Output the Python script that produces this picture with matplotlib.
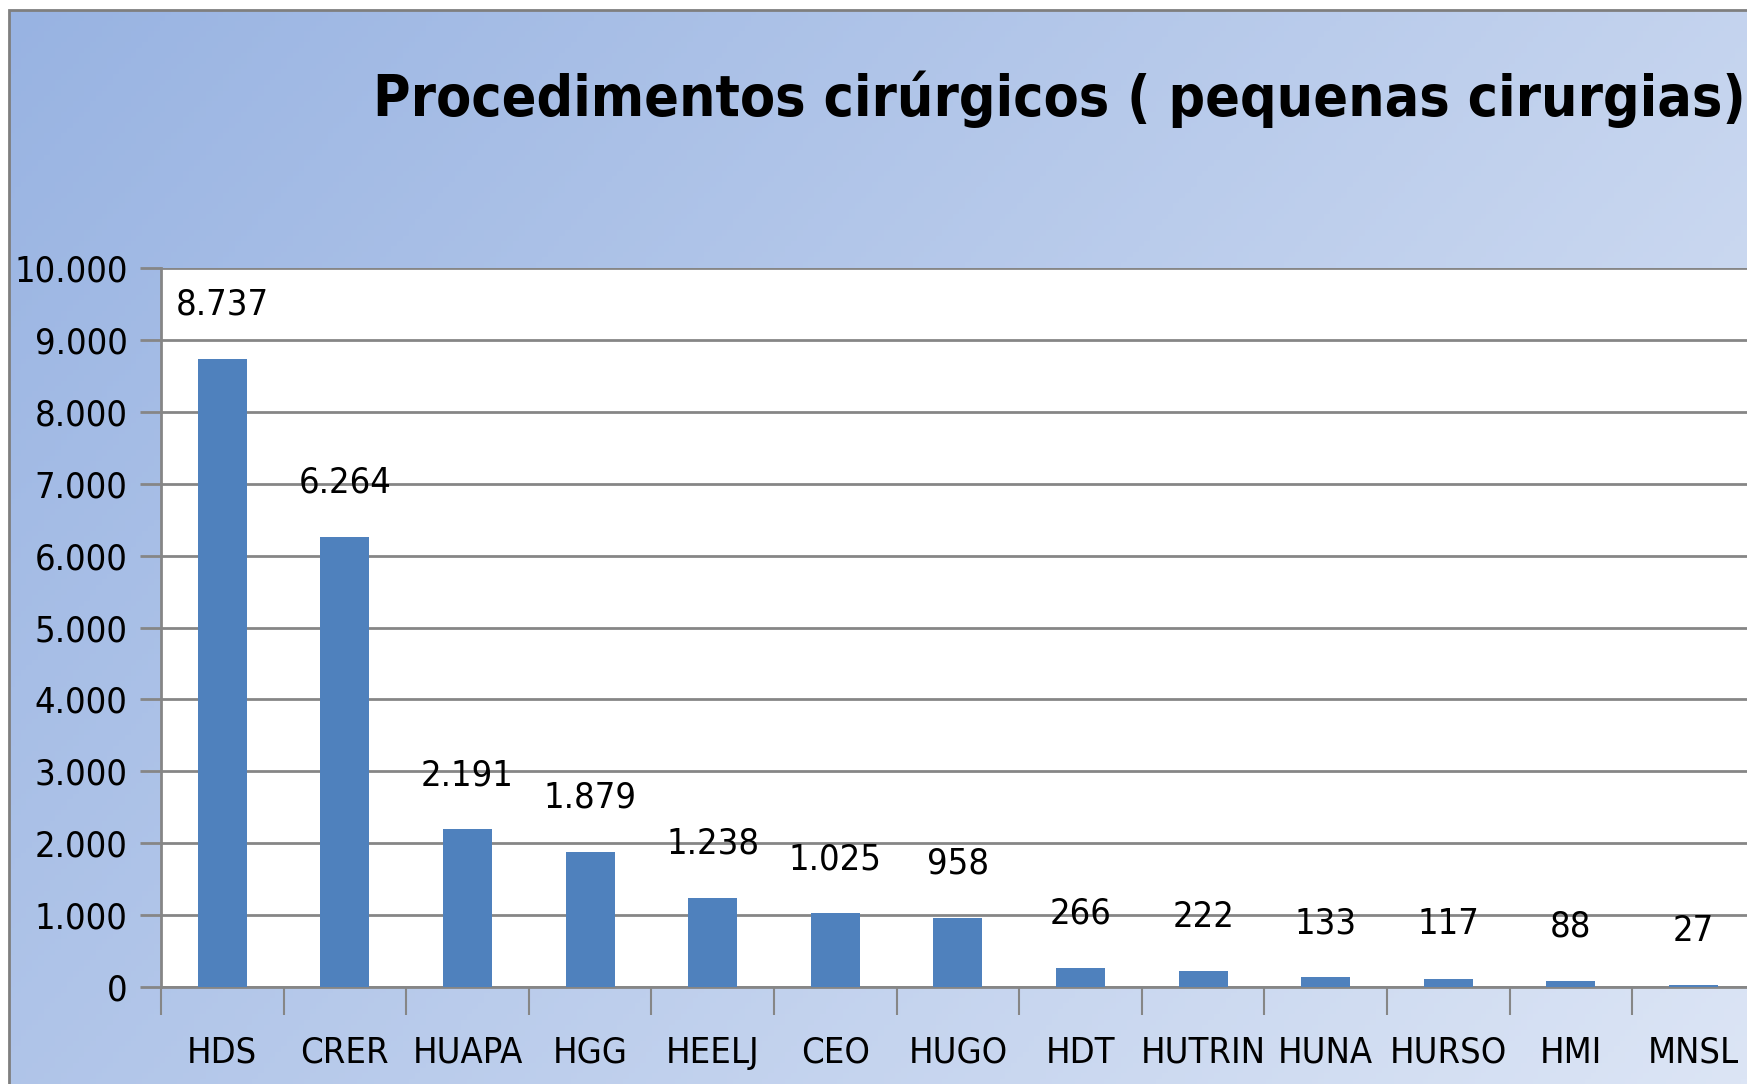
#!/usr/bin/env python3

import numpy as np
import matplotlib
matplotlib.use("Agg")
import matplotlib.pyplot as plt
from matplotlib.ticker import FuncFormatter
from matplotlib.patches import Rectangle

plt.rcParams['font.family'] = ['DejaVu Sans']
plt.rcParams['font.stretch'] = 'condensed'

hospitals = ["HDS", "CRER", "HUAPA", "HGG", "HEELJ", "CEO", "HUGO", "HDT",
             "HUTRIN", "HUNA", "HURSO", "HMI", "MNSL"]
procedures = [8737, 6264, 2191, 1879, 1238, 1025, 958, 266, 222, 133, 117, 88, 27]
title = "Procedimentos cirúrgicos ( pequenas cirurgias)"
yticks = np.arange(0, 10001, 1000)


def pt_br(v, pos=None):
    return f"{int(v):,}".replace(",", ".")


W, H = 1747, 1084
fig = plt.figure(figsize=(W / 100, H / 100), dpi=100)

# gradient background
bg = fig.add_axes([0, 0, 1, 1], zorder=0)
xx, yy = np.meshgrid(np.linspace(0, 1, 300), np.linspace(0, 1, 200))
t = 0.65 * xx + 0.35 * yy
c0 = np.array([152, 179, 226]) / 255
c1 = np.array([220, 229, 245]) / 255
img = c0[None, None, :] * (1 - t[..., None]) + c1[None, None, :] * t[..., None]
bx0, by1 = 9 / W, 1 - 10 / H
bg.imshow(img, extent=[bx0, 1, 0, by1], aspect='auto', origin='upper')
bg.add_patch(Rectangle((bx0, -0.01), 1.1, by1 + 0.01, fill=False,
                       edgecolor='#7f7f7f', lw=2))
bg.set_xlim(0, 1)
bg.set_ylim(0, 1)
bg.axis('off')

fig.text(373 / W, 1 - 99 / H, title, fontsize=41, fontweight='bold',
         ha='left', va='center')

ax_l, ax_r = 161, 161 + 13 * 122.6
ax_t, ax_b = 268, 987
ax = fig.add_axes([ax_l / W, 1 - ax_b / H, (ax_r - ax_l) / W, (ax_b - ax_t) / H],
                  zorder=1)
ax.set_facecolor('white')

x = np.arange(len(hospitals))
ax.bar(x, procedures, width=0.4, color='#4f81bd', zorder=3)
for xi, v in zip(x, procedures):
    ax.annotate(pt_br(v), (xi, v), xytext=(0, 39), textcoords='offset points',
                ha='center', va='center', fontsize=26, color='black')

ax.set_xlim(-0.5, len(hospitals) - 0.5)
ax.set_ylim(0, 10000)
ax.set_yticks(yticks)
ax.yaxis.set_major_formatter(FuncFormatter(pt_br))
ax.yaxis.grid(True, color='#868686', lw=2, zorder=1)
ax.set_axisbelow(True)

ax.set_xticks(np.arange(-0.5, len(hospitals), 1.0))
ax.set_xticklabels([])
ax.set_xticks(x, minor=True)
ax.set_xticklabels(hospitals, minor=True, fontsize=26)
ax.tick_params(axis='x', which='major', length=20, width=1.5, color='#868686')
ax.tick_params(axis='x', which='minor', length=0, pad=35)
ax.tick_params(axis='y', length=15, width=2, color='#868686', labelsize=26, pad=9)

for s in ['top', 'right']:
    ax.spines[s].set_visible(False)
for s in ['left', 'bottom']:
    ax.spines[s].set_color('#868686')
    ax.spines[s].set_linewidth(2)

fig.savefig("out.png", dpi=100)
